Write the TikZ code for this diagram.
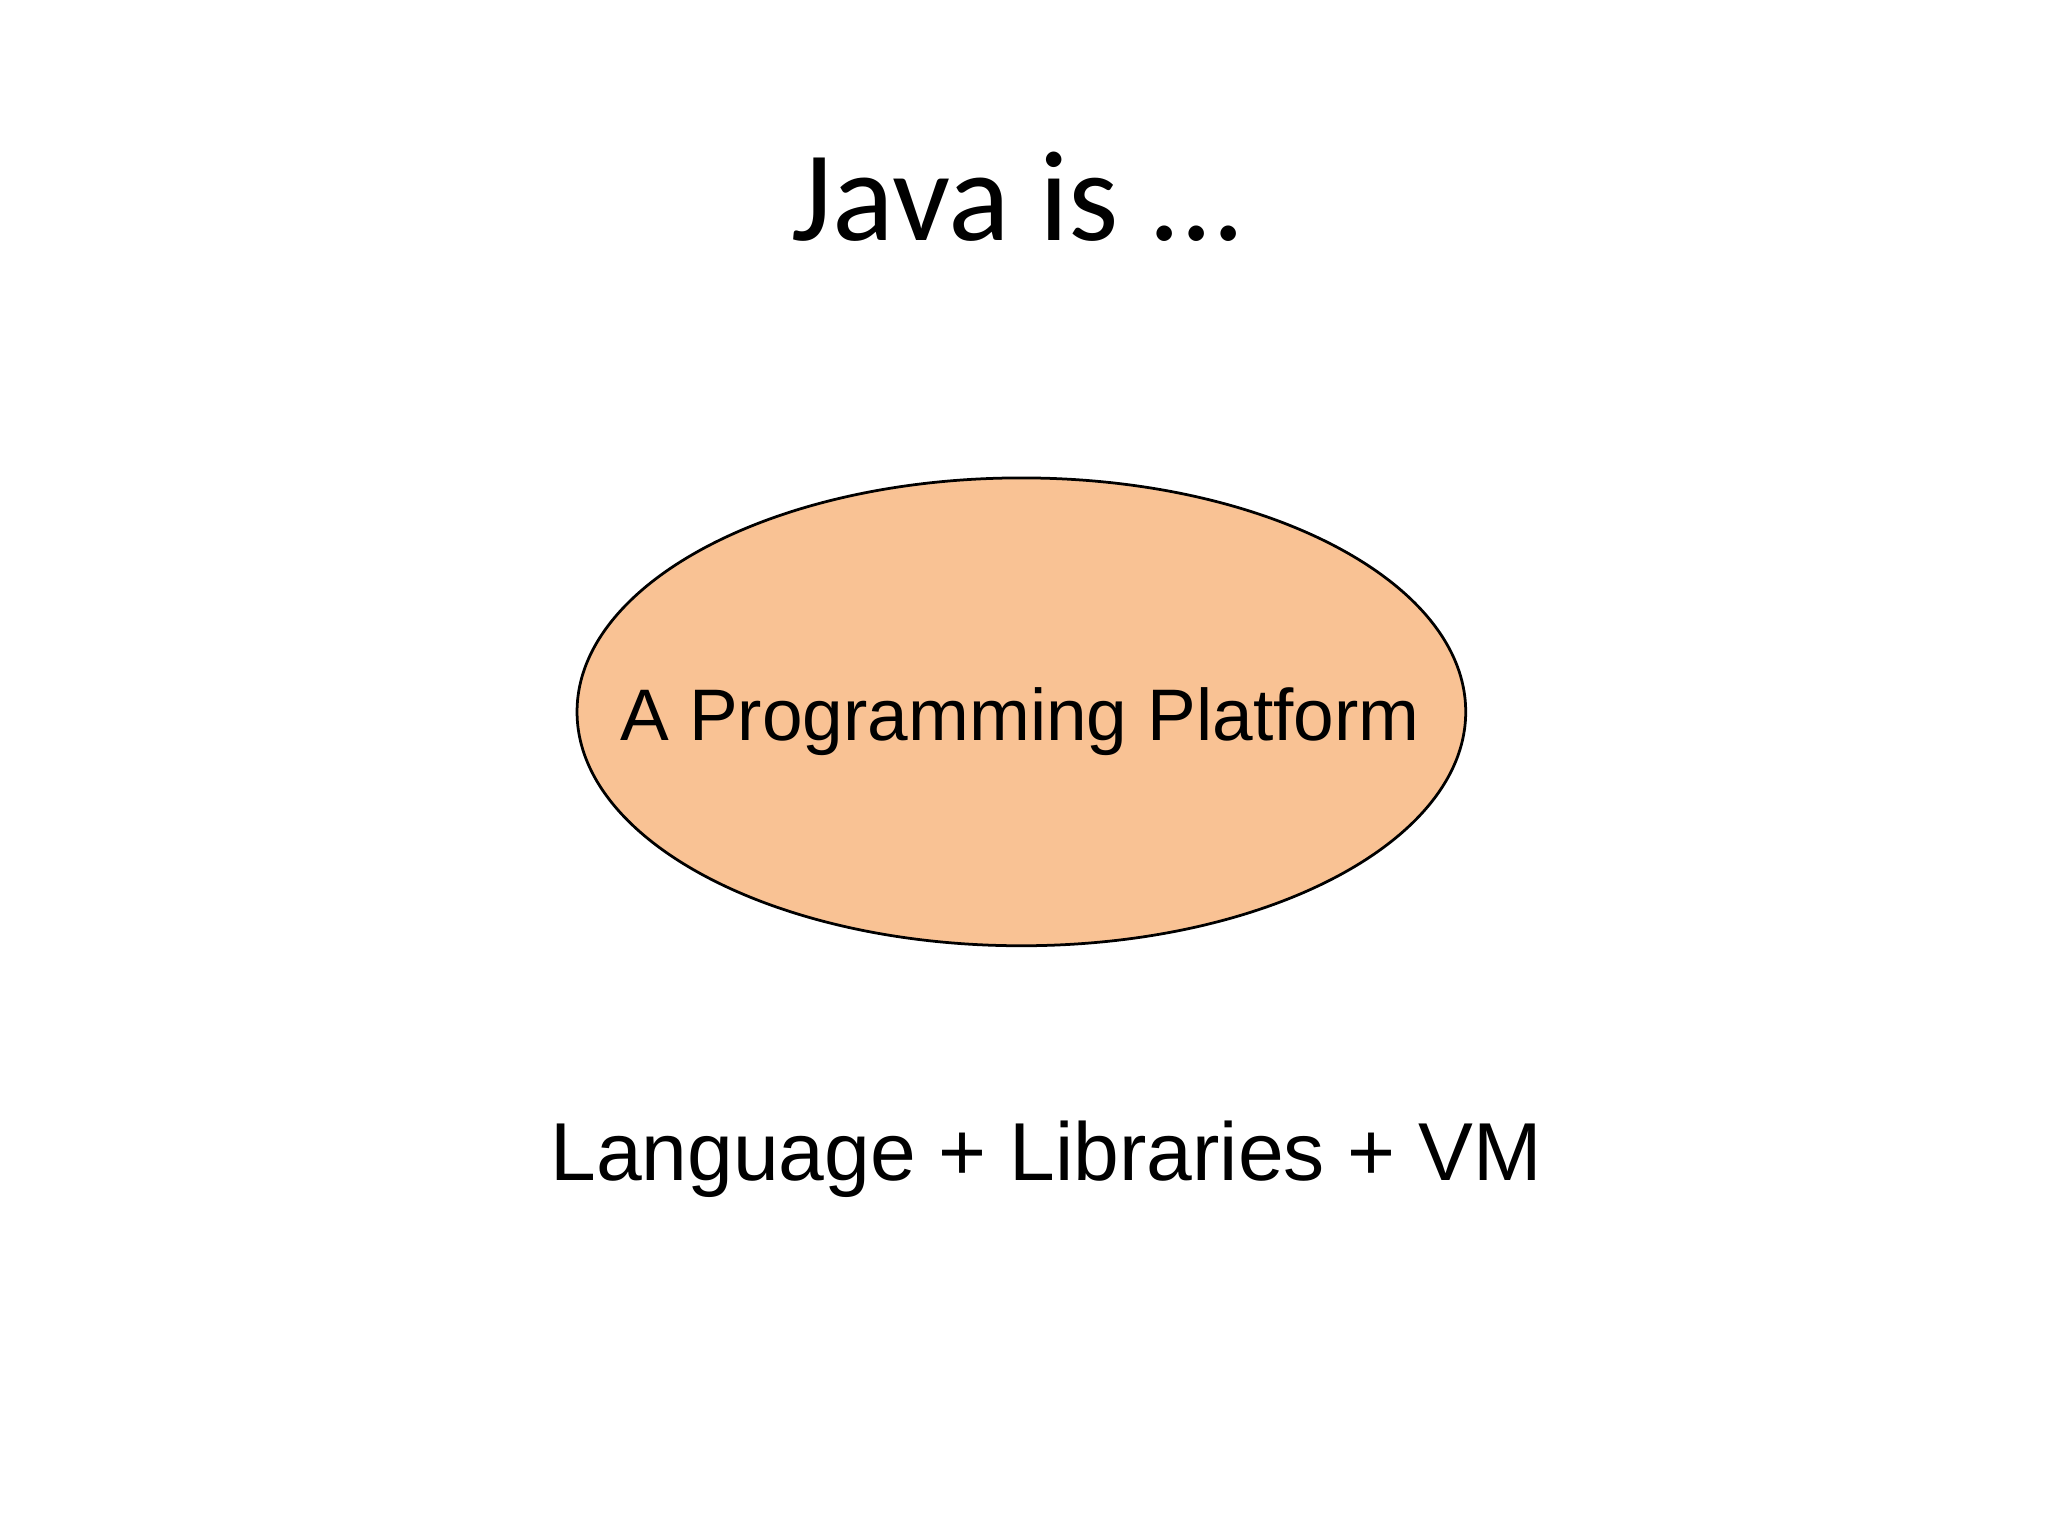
\documentclass[tikz,border=0pt]{standalone}
\usepackage{fontspec}
\usetikzlibrary{shapes.geometric}
\setmainfont{Liberation Sans}
\newfontfamily\titlefont{Carlito}
\definecolor{peach}{HTML}{F9C294}
\begin{document}
\begin{tikzpicture}[x=0.01cm,y=-0.01cm]
\useasboundingbox[fill=white] (0,0) rectangle (1568,1176);
\node[draw=black,fill=peach,ellipse,line width=0.6pt,minimum width=6.8cm,minimum height=3.58cm,inner sep=0pt] (ell) at (782,545) {};
\node[anchor=base,font=\titlefont\fontsize{28}{32}\selectfont] (title) at (780,184) {Java is ...};
\node[anchor=base,font=\fontsize{15.9}{19}\selectfont] (plat) at (781,567) {A Programming Platform};
\node[anchor=base,font=\fontsize{17.9}{22}\selectfont] (lang) at (801,904) {Language + Libraries + VM};
\end{tikzpicture}
\end{document}
